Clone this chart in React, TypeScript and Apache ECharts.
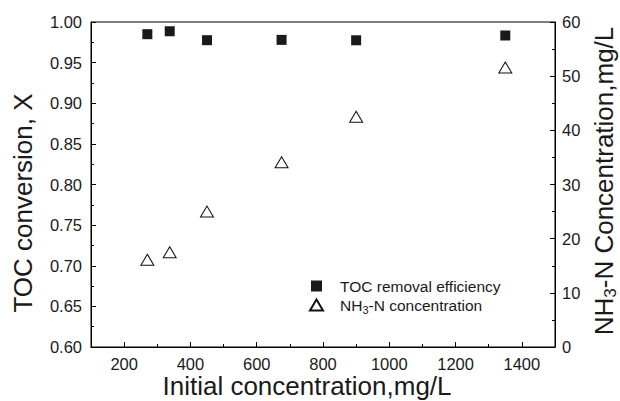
import React, { useEffect, useRef } from 'react';
import * as echarts from 'echarts';

// ---- data ----
const concentrations = [270, 337.5, 450, 675, 900, 1350];
const tocConversion = [0.985, 0.9886, 0.9776, 0.978, 0.9775, 0.9834];
const nh3nConcentration = [16.1, 17.5, 25.0, 34.1, 42.5, 51.6];
const xMajorTicks = [200, 400, 600, 800, 1000, 1200, 1400];
const xMinorTicks = [300, 500, 700, 900, 1100, 1300];
const seriesNames = ['TOC removal efficiency', 'NH3-N concentration'];
const xTitle = 'Initial concentration,mg/L';
const yLeftTitle = 'TOC conversion, X';
const yRightTitle = 'NH{sub|3}-N Concentration,mg/L';
const legendNh3Label = 'NH{sub|3}-N concentration';

const FONT = '"Liberation Sans", Arial, Helvetica, sans-serif';
const TXT = '#1a1a1a';
const LINE = '#000';

export default function App() {
  const ref = useRef<HTMLDivElement>(null);
  useEffect(() => {
    if (!ref.current) return;
    const chart = echarts.init(ref.current, undefined, { renderer: 'svg' });
    const axisLine = { show: true, lineStyle: { color: LINE, width: 1 } };
    const option: any = {
      animation: false,
      backgroundColor: '#fff',
      grid: {
        left: 91, right: 65, top: 22, bottom: 54,
        show: true, borderColor: LINE, borderWidth: 1, backgroundColor: 'transparent',
      },
      xAxis: [
        {
          type: 'value', min: 100, max: 1500, position: 'bottom',
          axisLine,
          axisTick: { show: true, inside: true, length: 5, customValues: xMajorTicks, lineStyle: { color: LINE } },
          axisLabel: {
            customValues: xMajorTicks, formatter: (v: number) => String(v),
            fontSize: 16.5, color: TXT, fontFamily: FONT, margin: 8,
          },
          splitLine: { show: false },
        },
        {
          type: 'value', min: 100, max: 1500, position: 'bottom',
          axisLine: { show: false },
          axisTick: { show: true, inside: true, length: 3, customValues: xMinorTicks, lineStyle: { color: LINE } },
          axisLabel: { show: false },
          splitLine: { show: false },
        },
      ],
      yAxis: [
        {
          type: 'value', min: 0.6, max: 1.0, interval: 0.05, position: 'left',
          axisLine,
          axisTick: { show: true, inside: true, length: 5, lineStyle: { color: LINE } },
          minorTick: { show: true, splitNumber: 2, length: 3, lineStyle: { color: LINE } },
          axisLabel: { formatter: (v: number) => v.toFixed(2), fontSize: 16.5, color: TXT, fontFamily: FONT, margin: 9 },
          splitLine: { show: false },
          minorSplitLine: { show: false },
        },
        {
          type: 'value', min: 0, max: 60, interval: 10, position: 'right',
          axisLine,
          axisTick: { show: true, inside: true, length: 5, lineStyle: { color: LINE } },
          minorTick: { show: true, splitNumber: 2, length: 3, lineStyle: { color: LINE } },
          axisLabel: { formatter: (v: number) => String(v), fontSize: 16.5, color: TXT, fontFamily: FONT, margin: 7 },
          splitLine: { show: false },
          minorSplitLine: { show: false },
        },
      ],
      legend: {
        orient: 'vertical', left: 304, top: 273,
        itemWidth: 13, itemHeight: 11, itemGap: 3,
        data: [
          { name: seriesNames[0], icon: 'path://M0,0L10,0L10,10L0,10Z' },
          { name: seriesNames[1], icon: 'path://M6.5,0L13,11L0,11Z' },
        ],
        formatter: (name: string) => (name === seriesNames[1] ? legendNh3Label : name),
        textStyle: {
          fontSize: 15.5, fontFamily: FONT, color: TXT, padding: [0, 0, 0, 12],
          rich: { sub: { fontSize: 11, fontFamily: FONT, color: TXT, padding: [10, 0, 0, 0] } },
        },
      },
      graphic: [
        {
          type: 'text', x: 307, y: 386,
          style: { text: xTitle, fontSize: 26, fontFamily: FONT, fill: TXT, align: 'center', verticalAlign: 'middle' },
        },
        {
          type: 'text', x: 23, y: 203, rotation: Math.PI / 2,
          style: { text: yLeftTitle, fontSize: 26, fontFamily: FONT, fill: TXT, align: 'center', verticalAlign: 'middle' },
        },
        {
          type: 'text', x: 604, y: 181, rotation: Math.PI / 2,
          style: {
            text: yRightTitle, fontSize: 26, fontFamily: FONT, fill: TXT, align: 'center', verticalAlign: 'middle',
            rich: { sub: { fontSize: 17, fontFamily: FONT, fill: TXT, padding: [13, 0, 0, 0] } },
          },
        },
      ],
      series: [
        {
          name: seriesNames[0], type: 'scatter', xAxisIndex: 0, yAxisIndex: 0,
          symbol: 'rect', symbolSize: 10,
          itemStyle: { color: '#1a1a1a', opacity: 1 },
          data: concentrations.map((x, i) => [x, tocConversion[i]]),
        },
        {
          name: seriesNames[1], type: 'scatter', xAxisIndex: 0, yAxisIndex: 1,
          symbol: 'triangle', symbolSize: [13, 11],
          itemStyle: { color: '#fff', borderColor: '#111', borderWidth: 1, opacity: 1 },
          data: concentrations.map((x, i) => [x, nh3nConcentration[i]]),
        },
      ],
    };
    chart.setOption(option);
    return () => chart.dispose();
  }, []);
  return <div ref={ref} style={{ position: 'fixed', left: 0, top: 0, width: 620, height: 401 }} />;
}
